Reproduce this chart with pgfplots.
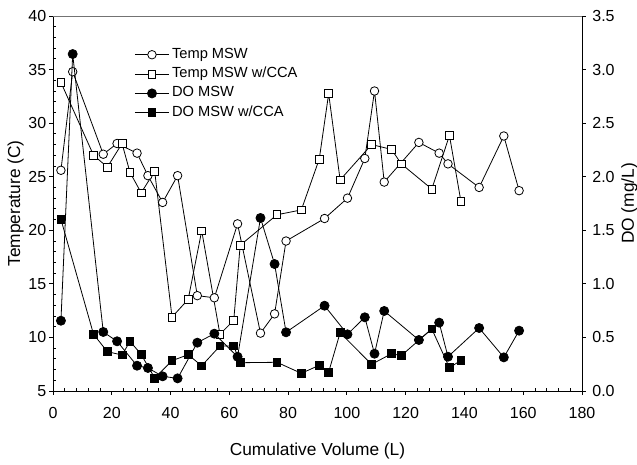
\documentclass[border=0pt]{standalone}
\usepackage{fontspec}
\setmainfont{Liberation Sans}
\usepackage{pgfplots}
\pgfplotsset{compat=1.18}
\newcommand\tickf{\fontsize{12}{14}\selectfont}
\newcommand\labf{\fontsize{13}{15.6}\selectfont}
\newcommand\legf{\fontsize{11}{13.2}\selectfont}
\begin{document}
\begin{tikzpicture}
\useasboundingbox (-39.75pt,-55.5pt) rectangle (438pt,293.25pt);
\pgfplotsset{
  base/.style={scale only axis, width=396.75pt, height=281.25pt, xmin=0, xmax=180,
    /pgf/number format/assume math mode=true,
    tick label style={font=\tickf}, label style={font=\labf},
    tick align=inside, major tick length=-3pt, minor tick length=2.25pt,
    axis line style={line width=0.7pt}, tick style={line width=0.6pt, black}},
  tm/.style={black, line width=0.6pt, mark=*, mark size=3.2pt, mark options={fill=white, line width=0.6pt}},
  tc/.style={black, line width=0.6pt, mark=square*, mark size=2.9pt, mark options={fill=white, line width=0.6pt}},
  dm/.style={black, line width=0.6pt, mark=*, mark size=3.4pt, mark options={fill=black}},
  dc/.style={black, line width=0.6pt, mark=square*, mark size=2.9pt, mark options={fill=black}},
}
\begin{axis}[base, axis x line*=bottom, axis y line*=left,
  ymin=5, ymax=40, ytick={5,10,...,40}, minor y tick num=4,
  xtick={0,20,...,180}, minor x tick num=4,
  xticklabel shift=8.75pt, yticklabel shift=1.5pt,
  xlabel={Cumulative Volume (L)}, ylabel={Temperature (C)},
  xlabel style={at={(axis description cs:0.5,0)}, anchor=center, yshift=-45pt},
  ylabel style={at={(axis description cs:-0.0705,0.5)}, anchor=center}]
\draw[black!55, line width=1pt] (rel axis cs:0,1) -- (rel axis cs:1,1);
\addplot[tm] coordinates {(2.7,25.6) (6.7,34.8) (17.1,27.1) (21.8,28.1) (28.6,27.2) (32.3,25.1) (37.3,22.6) (42.4,25.1) (49.1,13.9) (54.9,13.7) (62.8,20.6) (70.6,10.4) (75.4,12.2) (79.3,19.0) (92.4,21.1) (100.2,23.0) (106.1,26.7) (109.4,33.0) (112.7,24.5) (124.5,28.2) (131.4,27.2) (134.4,26.2) (145,24.0) (153.4,28.8) (158.6,23.7)};
\addplot[tc] coordinates {(2.7,33.8) (13.8,27.0) (18.5,25.9) (23.5,28.1) (26.2,25.4) (30.0,23.5) (34.6,25.5) (40.5,11.9) (46.0,13.55) (50.6,19.95) (56.8,10.3) (61.5,11.6) (63.7,18.6) (76.2,21.45) (84.5,21.9) (90.6,26.65) (93.8,32.75) (97.7,24.7) (108.4,28.0) (115.2,27.55) (118.5,26.2) (128.9,23.85) (134.9,28.85) (138.8,22.7)};
\end{axis}
\begin{axis}[base, axis x line=none, axis y line*=right,
  ymin=0, ymax=3.5, ytick={0,0.5,...,3.5},
  yticklabel style={/pgf/number format/.cd, fixed, fixed zerofill, precision=1},
  yticklabel shift=4.25pt,
  ylabel={DO (mg/L)},
  ylabel style={at={(axis description cs:1.0898,0.5)}, anchor=center},
  legend style={at={(axis description cs:0.1537,0.9223)}, anchor=north west, draw=none, fill=none, inner sep=0pt, row sep=0.5pt, font=\legf, nodes={inner sep=2pt, text height=7.5pt, text depth=2.5pt}},
  legend cell align=left,
  legend image code/.code={\draw[mark repeat=2,mark phase=2] plot coordinates {(0pt,0pt)(12.75pt,0pt)(25.5pt,0pt)};}]
\addlegendimage{tm}\addlegendentry{Temp MSW}
\addlegendimage{tc}\addlegendentry{Temp MSW w/CCA}
\addplot[dm] coordinates {(2.7,0.656) (6.7,3.145) (17.1,0.551) (21.8,0.464) (28.6,0.236) (32.3,0.215) (37.3,0.137) (42.4,0.118) (49.1,0.451) (54.9,0.535) (62.8,0.32) (70.6,1.615) (75.4,1.185) (79.3,0.548) (92.4,0.796) (100.2,0.529) (106.1,0.688) (109.4,0.348) (112.7,0.747) (124.5,0.476) (131.4,0.638) (134.4,0.32) (145,0.588) (153.4,0.314) (158.6,0.563)};
\addlegendentry{DO MSW}
\addplot[dc] coordinates {(2.7,1.602) (13.8,0.529) (18.5,0.367) (23.5,0.336) (26.2,0.464) (30.0,0.342) (34.6,0.121) (40.5,0.283) (46.0,0.339) (50.6,0.235) (56.8,0.42) (61.5,0.42) (63.7,0.264) (76.2,0.268) (84.5,0.165) (90.6,0.24) (93.8,0.177) (97.7,0.544) (108.4,0.249) (115.2,0.348) (118.5,0.33) (128.9,0.579) (134.9,0.217) (138.8,0.286)};
\addlegendentry{DO MSW w/CCA}
\end{axis}
\end{tikzpicture}
\end{document}
